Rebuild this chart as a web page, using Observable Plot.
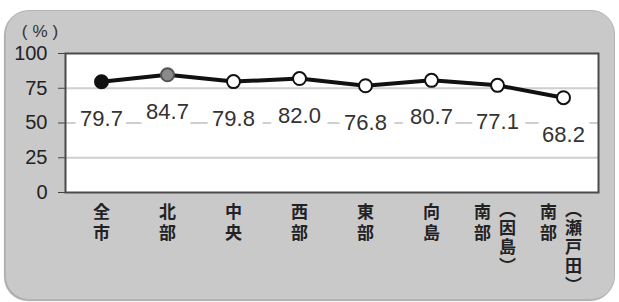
<!DOCTYPE html>
<html>
<head>
<meta charset="utf-8">
<script src="https://cdn.jsdelivr.net/npm/d3@7"></script>
<script src="https://cdn.jsdelivr.net/npm/@observablehq/plot@0.6"></script>
<style>
  html, body { margin: 0; padding: 0; background: #ffffff; }
  #wrap { position: relative; width: 619px; height: 302px; overflow: hidden; }
  #bg { position: absolute; left: 5px; top: 10px; width: 608px; height: 288px;
        background: #c9c9c9; border-radius: 24px; border: 1px solid #b4b4b4;
        box-shadow: -1px 1px 1px #a8a8a8; }
  #chart { position: absolute; left: 0; top: 0; }
</style>
</head>
<body>
<div id="wrap"><div id="bg"></div><div id="chart"></div></div>
<script>
// ---- data ----
const categories = ["全市", "北部", "中央", "西部", "東部", "向島", "南部（因島）", "南部（瀬戸田）"];
const values = [79.7, 84.7, 79.8, 82.0, 76.8, 80.7, 77.1, 68.2];
const valueLabels = ["79.7", "84.7", "79.8", "82.0", "76.8", "80.7", "77.1", "68.2"];
const tickLines = [["全市"], ["北部"], ["中央"], ["西部"], ["東部"], ["向島"], ["南部", "（因島）"], ["南部", "（瀬戸田）"]];
const yTicks = [0, 25, 50, 75, 100];
const gridValues = [25, 50, 75];
const unitLabel = "(%)";

// ---- build tables ----
// vertical stacking: one character per line; brackets use their vertical presentation forms
const vert = s => Array.from(s).map(ch => ch === "（" ? "︵" : ch === "）" ? "︶" : ch).join("\n");
const rows = categories.map((c, i) => ({cat: c, value: values[i], label: valueLabels[i], idx: i}));
const singleCols = [], firstCols = [], secondCols = [];
categories.forEach((c, i) => {
  const lines = tickLines[i];
  if (lines.length === 1) singleCols.push({cat: c, text: vert(lines[0])});
  else { firstCols.push({cat: c, text: vert(lines[0])}); secondCols.push({cat: c, text: vert(lines[1])}); }
});

const jp = "'Noto Sans CJK JP', 'Noto Sans', sans-serif";
const numFont = "'Liberation Sans', Arial, sans-serif";

const colMark = (data, dx, lineHeight) => Plot.text(data, {
  x: "cat", text: "text", frameAnchor: "bottom", lineAnchor: "top", dy: 10, dx,
  lineHeight, fill: "#222", fontSize: 17, fontWeight: "bold", fontFamily: jp
});

const svg = Plot.plot({
  width: 619,
  height: 302,
  marginLeft: 65,
  marginRight: 21,
  marginTop: 53,
  marginBottom: 110,
  style: {background: "transparent", overflow: "visible"},
  x: {type: "point", domain: categories, padding: 0.5, axis: null},
  y: {domain: [0, 100]},
  marks: [
    Plot.frame({fill: "white", stroke: null}),
    Plot.ruleY(gridValues, {stroke: "#cfcfcf", strokeWidth: 2}),
    Plot.axisY({ticks: yTicks, tickSize: 7, tickPadding: 11, label: null,
                fontSize: 20, fontFamily: numFont, fill: "#222", stroke: "#444"}),
    Plot.text([unitLabel], {frameAnchor: "top-left", dx: -23, dy: -22, text: d => d,
                textAnchor: "middle", lineAnchor: "middle",
                fontSize: 17, fill: "#333", fontFamily: numFont}),
    Plot.text(rows, {x: "cat", y: "value", text: "label", dy: 37,
                     fontSize: 22, fill: "#333", fontFamily: numFont,
                     stroke: "white", strokeWidth: 17, strokeLinejoin: "round"}),
    Plot.line(rows, {x: "cat", y: "value", stroke: "#111", strokeWidth: 4, strokeLinejoin: "round"}),
    Plot.dot(rows, {x: "cat", y: "value", r: 6.5,
                    fill: d => d.idx === 0 ? "#111" : d.idx === 1 ? "#8a8a8a" : "#ffffff",
                    stroke: d => d.idx === 1 ? "#555" : "#111", strokeWidth: 2}),
    Plot.frame({stroke: "#4a4a4a", strokeWidth: 2}),
    colMark(singleCols, 0, 1.25),
    colMark(firstCols, -15, 1.25),
    colMark(secondCols, 10, 1.1)
  ]
});

// widen the unit label a little, as in the reference
d3.select(svg).selectAll("text").filter(function() { return this.textContent === unitLabel; })
  .style("letter-spacing", "5px");

document.getElementById("chart").appendChild(svg);
</script>
</body>
</html>
